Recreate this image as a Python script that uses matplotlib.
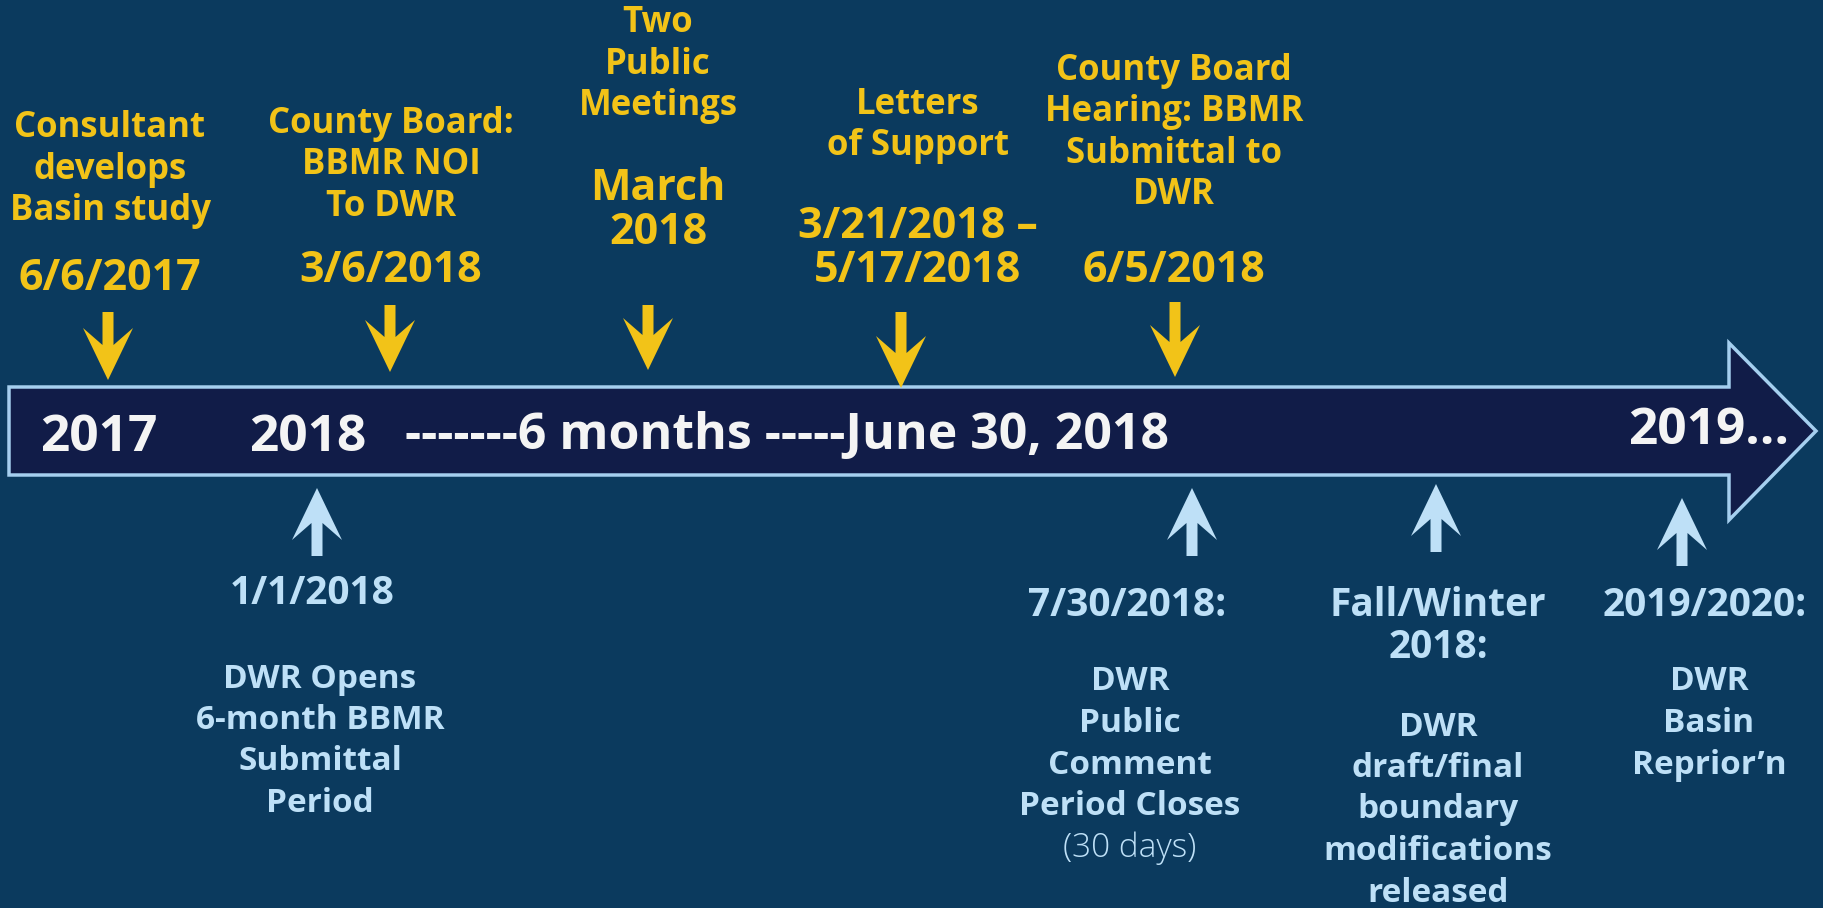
import matplotlib.pyplot as plt
from matplotlib.patches import Polygon

BG = "#0b3a5e"
BAR = "#111c48"
EDGE = "#a5cfef"
YELLOW = "#f2c318"
LBLUE = "#bee0f7"
WHITE = "#f4f4f4"

# events above the timeline (yellow, arrows pointing down)
top_labels = ["Consultant\ndevelops\nBasin study", "County Board:\nBBMR NOI\nTo DWR",
              "Two\nPublic\nMeetings", "Letters\nof Support",
              "County Board\nHearing: BBMR\nSubmittal to\nDWR"]
top_dates = ["6/6/2017", "3/6/2018", "March\n2018", "3/21/2018 \u2013\n5/17/2018", "6/5/2018"]
top_x = [110, 391, 658, 918, 1174]           # text centres (px)
top_arrow_x = [108, 390, 648, 901, 1175]
top_label_y = [128, 124, 23, 105, 71]         # first line
top_date_y = [279, 271, 188, 227, 271]
top_arrow_top = [312, 305, 305, 312, 302]
top_arrow_tip = [380, 372, 370, 388, 377]

# events below the timeline (light blue, arrows pointing up)
bot_dates = ["1/1/2018", "7/30/2018:", "Fall/Winter\n2018:", "2019/2020:"]
bot_labels = ["DWR Opens\n6-month BBMR\nSubmittal\nPeriod", "DWR\nPublic\nComment\nPeriod Closes",
              "DWR\ndraft/final\nboundary\nmodifications\nreleased", "DWR\nBasin\nReprior\u2019n"]
bot_notes = ["", "(30 days)", "", ""]
bot_x = [312, 1127, 1438, 1705]
bot_label_x = [320, 1130, 1438, 1709]
bot_arrow_x = [317, 1192, 1436, 1682]
bot_date_y = [593, 605, 605, 605]
bot_label_y = [679, 682, 727, 682]
bot_arrow_tip = [488, 488, 484, 498]
bot_arrow_bot = [556, 556, 552, 566]

# timeline text
bar_years = ["2017", "2018"]
bar_year_x = [99, 308]
bar_span = "-------6 months -----June 30, 2018"
bar_end = "2019\u2026"

LINE = 41.5
FONT = "Open Sans"


def arrow(ax, x, y0, y1, color):
    # y0 = tail, y1 = tip; concave arrowhead
    d = 1 if y1 > y0 else -1
    sw, hw, hl, notch = 5.5, 25, 52, 17
    ys = y1 - d * (hl - notch)
    yw = y1 - d * hl
    pts = [(x - sw, y0), (x + sw, y0), (x + sw, ys), (x + hw, yw), (x, y1),
           (x - hw, yw), (x - sw, ys)]
    ax.add_patch(Polygon(pts, closed=True, facecolor=color, edgecolor="none"))


fig = plt.figure(figsize=(18.23, 9.08), dpi=100)
fig.patch.set_facecolor(BG)
ax = fig.add_axes([0, 0, 1, 1])
ax.set_xlim(0, 1823)
ax.set_ylim(908, 0)
ax.axis("off")

# big timeline arrow
bar = [(9, 387), (1729, 387), (1729, 343), (1816, 431), (1729, 520), (1729, 475), (9, 475)]
ax.add_patch(Polygon(bar, closed=True, facecolor=BAR, edgecolor=EDGE, lw=2.5))

for x, y in zip(bar_year_x, bar_years):
    ax.text(x, 438, y, color=WHITE, fontsize=37, fontweight="bold", family=FONT,
            ha="center", va="center")
ax.text(405, 436, bar_span, color=WHITE, fontsize=36, fontweight="bold", family=FONT,
        ha="left", va="center")
ax.text(1628, 431, bar_end, color=WHITE, fontsize=37, fontweight="bold", family=FONT,
        ha="left", va="center")

for i, lab in enumerate(top_labels):
    for j, line in enumerate(lab.split("\n")):
        ax.text(top_x[i], top_label_y[i] + j * LINE, line, color=YELLOW, fontsize=25,
                fontweight="bold", family=FONT, ha="center", va="center")
    for j, line in enumerate(top_dates[i].split("\n")):
        ax.text(top_x[i], top_date_y[i] + j * 44, line, color=YELLOW, fontsize=31,
                fontweight="bold", family=FONT, ha="center", va="center")
    arrow(ax, top_arrow_x[i], top_arrow_top[i], top_arrow_tip[i], YELLOW)

for i, lab in enumerate(bot_labels):
    for j, line in enumerate(bot_dates[i].split("\n")):
        ax.text(bot_x[i], bot_date_y[i] + j * 43, line, color=LBLUE, fontsize=28,
                fontweight="bold", family=FONT, ha="center", va="center")
    lines = lab.split("\n")
    for j, line in enumerate(lines):
        ax.text(bot_label_x[i], bot_label_y[i] + j * LINE, line, color=LBLUE, fontsize=24,
                fontweight="bold", family=FONT, ha="center", va="center")
    if bot_notes[i]:
        ax.text(bot_label_x[i], bot_label_y[i] + len(lines) * LINE, bot_notes[i],
                color=LBLUE, fontsize=24, family=FONT, fontweight="light",
                ha="center", va="center")
    arrow(ax, bot_arrow_x[i], bot_arrow_bot[i], bot_arrow_tip[i], LBLUE)

fig.savefig("out.png", dpi=100, facecolor=BG)
